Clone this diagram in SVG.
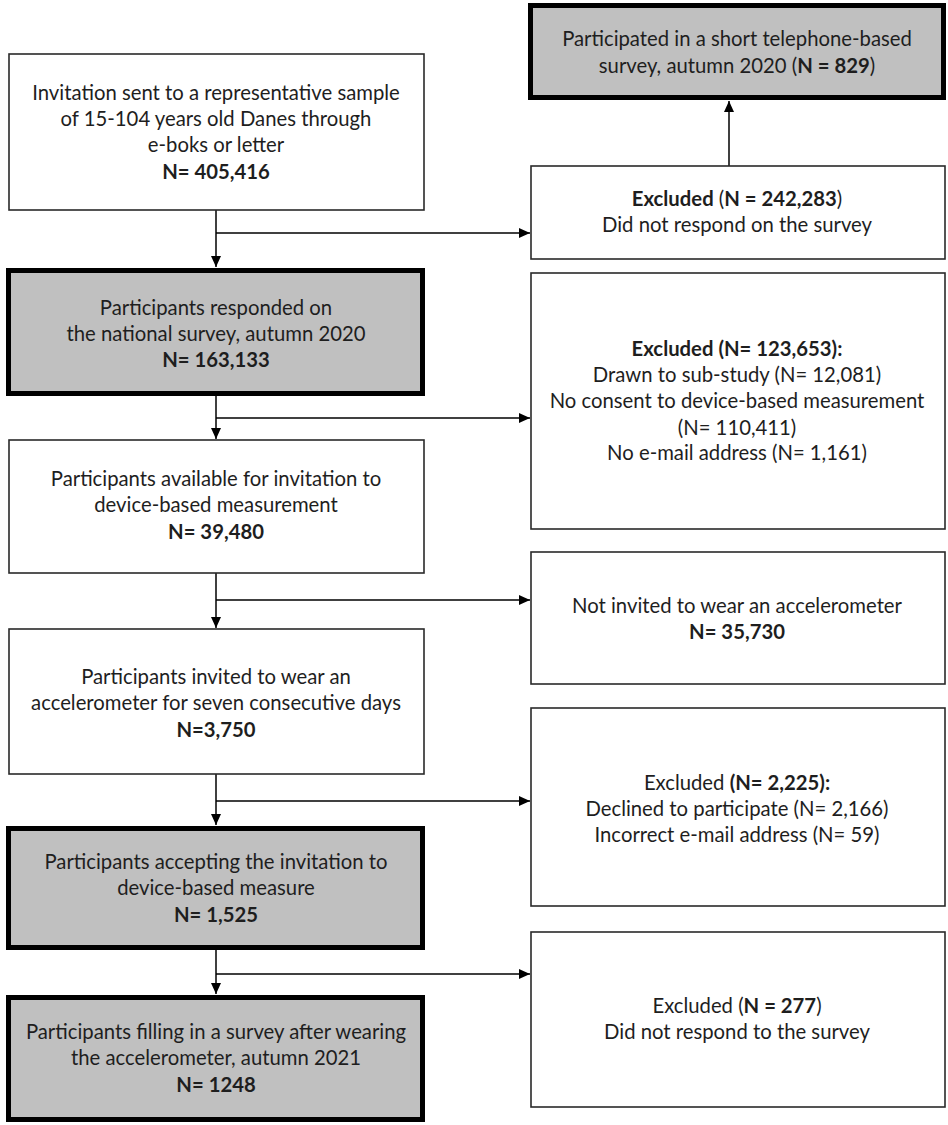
<svg xmlns="http://www.w3.org/2000/svg" width="948" height="1125" viewBox="0 0 948 1125">
<style>
.thin{fill:#fff;stroke:#2a2a2a;stroke-width:1.6}
.thick{fill:#c0c0c0;stroke:#000;stroke-width:5}
text{font-family:Lato,"Liberation Sans",sans-serif;font-size:20.3px;fill:#1e1e1e;text-anchor:middle}
.b{font-weight:bold}
.c{fill:none;stroke:#000;stroke-width:1.5}
</style>
<defs>
<marker id="ah" markerUnits="userSpaceOnUse" markerWidth="12" markerHeight="11" refX="11" refY="5" orient="auto">
<path d="M0,0 L11,5 L0,10 z" fill="#000"/>
</marker>
</defs>
<rect width="948" height="1125" fill="#fff"/>
<g id="connectors">
<path class="c" d="M216,210 V267" marker-end="url(#ah)"/>
<path class="c" d="M216,233 H530" marker-end="url(#ah)"/>
<path class="c" d="M729,166 V101" marker-end="url(#ah)"/>
<path class="c" d="M216,396 V439" marker-end="url(#ah)"/>
<path class="c" d="M216,418 H530" marker-end="url(#ah)"/>
<path class="c" d="M216,573 V628" marker-end="url(#ah)"/>
<path class="c" d="M216,600 H530" marker-end="url(#ah)"/>
<path class="c" d="M216,774 V825" marker-end="url(#ah)"/>
<path class="c" d="M216,801 H530" marker-end="url(#ah)"/>
<path class="c" d="M216,950 V994" marker-end="url(#ah)"/>
<path class="c" d="M216,974 H530" marker-end="url(#ah)"/>
</g>
<g id="n_invitation">
<rect class="thin" x="9" y="54" width="415" height="156"/>
<text x="216" y="100">Invitation sent to a representative sample</text>
<text x="216" y="126">of 15-104 years old Danes through</text>
<text x="216" y="152">e-boks or letter</text>
<text x="216" y="179" class="b">N= 405,416</text>
</g>
<g id="n_telephone">
<rect class="thick" x="530.5" y="5.5" width="413" height="92"/>
<text x="737" y="46">Participated in a short telephone-based</text>
<text x="737" y="73">survey, autumn 2020 (<tspan class="b">N = 829</tspan>)</text>
</g>
<g id="n_excl1">
<rect class="thin" x="531" y="166" width="414" height="93"/>
<text x="737" y="206"><tspan class="b">Excluded</tspan> (<tspan class="b">N = 242,283</tspan>)</text>
<text x="737" y="232">Did not respond on the survey</text>
</g>
<g id="n_responded">
<rect class="thick" x="8.5" y="270.5" width="414" height="123"/>
<text x="216" y="315">Participants responded on</text>
<text x="216" y="341">the national survey, autumn 2020</text>
<text x="216" y="367" class="b">N= 163,133</text>
</g>
<g id="n_excl2">
<rect class="thin" x="531" y="273" width="414" height="256"/>
<text x="737" y="356" class="b">Excluded (N= 123,653):</text>
<text x="737" y="382">Drawn to sub-study (N= 12,081)</text>
<text x="737" y="408">No consent to device-based measurement</text>
<text x="737" y="435">(N= 110,411)</text>
<text x="737" y="460">No e-mail address (N= 1,161)</text>
</g>
<g id="n_available">
<rect class="thin" x="9" y="440" width="415" height="133"/>
<text x="216" y="486">Participants available for invitation to</text>
<text x="216" y="512">device-based measurement</text>
<text x="216" y="539" class="b">N= 39,480</text>
</g>
<g id="n_notinvited">
<rect class="thin" x="531" y="552" width="414" height="132"/>
<text x="737" y="613">Not invited to wear an accelerometer</text>
<text x="737" y="639" class="b">N= 35,730</text>
</g>
<g id="n_invited">
<rect class="thin" x="9" y="629" width="415" height="145"/>
<text x="216" y="684">Participants invited to wear an</text>
<text x="216" y="710">accelerometer for seven consecutive days</text>
<text x="216" y="737" class="b">N=3,750</text>
</g>
<g id="n_excl3">
<rect class="thin" x="531" y="708" width="414" height="198"/>
<text x="737" y="790">Excluded <tspan class="b">(N= 2,225):</tspan></text>
<text x="737" y="816">Declined to participate (N= 2,166)</text>
<text x="737" y="842">Incorrect e-mail address (N= 59)</text>
</g>
<g id="n_accepting">
<rect class="thick" x="8.5" y="828.5" width="414" height="119"/>
<text x="216" y="869">Participants accepting the invitation to</text>
<text x="216" y="895">device-based measure</text>
<text x="216" y="922" class="b">N= 1,525</text>
</g>
<g id="n_excl4">
<rect class="thin" x="531" y="932" width="414" height="175"/>
<text x="737" y="1013">Excluded (<tspan class="b">N = 277</tspan>)</text>
<text x="737" y="1039">Did not respond to the survey</text>
</g>
<g id="n_filling">
<rect class="thick" x="8.5" y="997.5" width="414" height="122"/>
<text x="216" y="1039">Participants filling in a survey after wearing</text>
<text x="216" y="1065">the accelerometer, autumn 2021</text>
<text x="216" y="1092" class="b">N= 1248</text>
</g>
</svg>
